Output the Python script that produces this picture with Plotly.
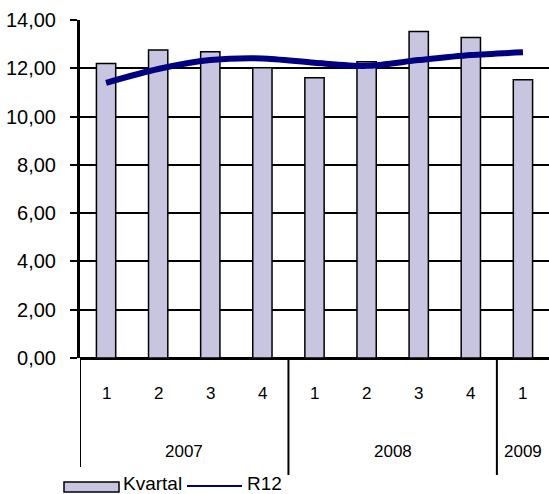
import plotly.graph_objects as go

# Quarterly values and rolling 12-month values
years = ["2007", "2007", "2007", "2007", "2008", "2008", "2008", "2008", "2009"]
quarters = ["1", "2", "3", "4", "1", "2", "3", "4", "1"]
kvartal = [12.20, 12.76, 12.69, 12.02, 11.61, 12.27, 13.52, 13.27, 11.52]
r12 = [11.40, 11.97, 12.34, 12.41, 12.23, 12.10, 12.34, 12.55, 12.66]
year_labels = ["2007", "2008", "2009"]

W, H = 549, 494
L, R, T, B = 80, 0, 20, 136
PW, PH = W - L - R, H - T - B
FONT = "Liberation Sans, Arial, sans-serif"


def py(pix):
    """Pixel row -> paper y."""
    return (H - B - pix) / PH


def px(pix):
    """Pixel column -> paper x."""
    return (pix - L) / PW


xs = list(range(len(kvartal)))

fig = go.Figure()
fig.add_trace(go.Bar(
    x=xs, y=kvartal, name="Kvartal",
    marker=dict(color="#C8C5E1", line=dict(color="black", width=1.5)),
    showlegend=False,
))
fig.add_trace(go.Scatter(
    x=xs, y=r12, name="R12", mode="lines",
    line=dict(color="#000080", width=6, shape="spline", smoothing=0.8),
    showlegend=False,
))

# Quarter and year labels under the axis
ann = []
for i, q in enumerate(quarters):
    ann.append(dict(x=i, y=py(393), xref="x", yref="paper", text=q,
                    yanchor="middle", showarrow=False,
                    font=dict(size=17, color="black", family=FONT)))

groups = {}
for i, yv in enumerate(years):
    groups.setdefault(yv, []).append(i)
shapes = []
for yv in year_labels:
    idx = groups[yv]
    center = (idx[0] + idx[-1]) / 2
    ann.append(dict(x=center, y=py(452), xref="x", yref="paper", text=yv,
                    yanchor="middle", showarrow=False,
                    font=dict(size=17, color="black", family=FONT)))
    bottom = 467 if idx[0] == 0 else 475
    shapes.append(dict(type="line", xref="x", yref="paper",
                       x0=idx[0] - 0.5, x1=idx[0] - 0.5, y0=0, y1=py(bottom),
                       line=dict(color="black", width=2)))

# Legend
shapes.append(dict(type="rect", xref="paper", yref="paper",
                   x0=px(64), x1=px(119), y0=py(492), y1=py(482),
                   fillcolor="#C8C5E1", line=dict(color="black", width=1.5)))
ann.append(dict(x=px(121), y=py(484), xref="paper", yref="paper", text="Kvartal",
                xanchor="left", yanchor="middle", showarrow=False,
                font=dict(size=19, color="black", family=FONT)))
shapes.append(dict(type="line", xref="paper", yref="paper",
                   x0=px(187), x1=px(242), y0=py(486), y1=py(486),
                   line=dict(color="#000080", width=2)))
ann.append(dict(x=px(245), y=py(484), xref="paper", yref="paper", text="R12",
                xanchor="left", yanchor="middle", showarrow=False,
                font=dict(size=19, color="black", family=FONT)))

fig.update_layout(
    width=W, height=H,
    margin=dict(l=L, r=R, t=T, b=B),
    paper_bgcolor="white", plot_bgcolor="white",
    separators=", ",
    bargap=0.63,
    font=dict(family=FONT, color="black"),
    annotations=ann, shapes=shapes,
    xaxis=dict(range=[-0.5, 8.5], showticklabels=False, showgrid=False,
               zeroline=False, showline=False, ticks=""),
    yaxis=dict(range=[0, 14], dtick=2, tickformat=".2f",
               showgrid=True, gridcolor="black", gridwidth=2,
               zeroline=True, zerolinecolor="black", zerolinewidth=3,
               showline=True, linecolor="black", linewidth=3,
               ticks="outside", ticklen=7, tickwidth=2, tickcolor="black",
               ticklabelstandoff=10,
               tickfont=dict(size=20, color="black", family=FONT)),
)

fig.write_html("out.html")
